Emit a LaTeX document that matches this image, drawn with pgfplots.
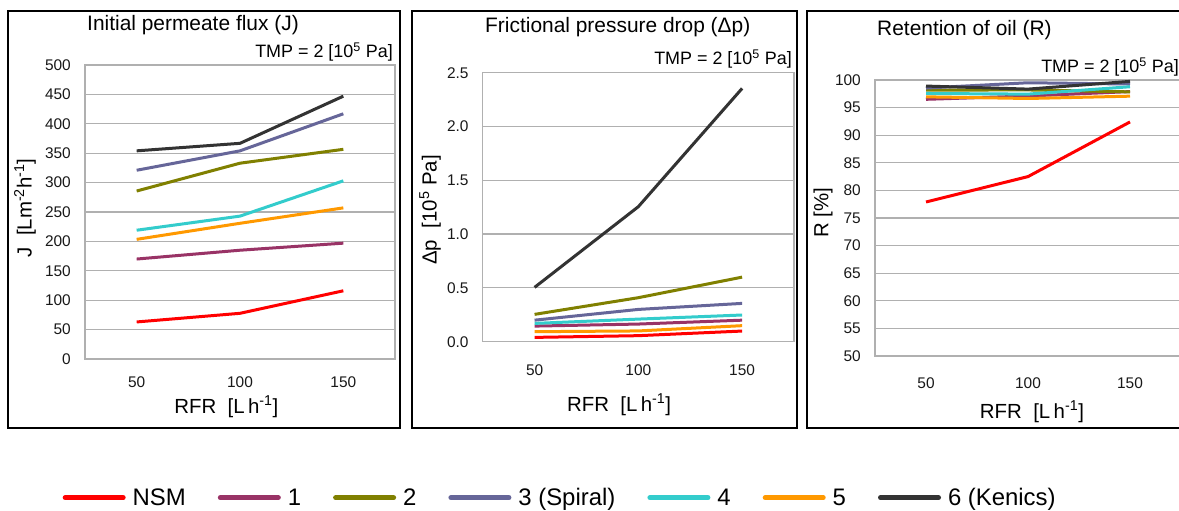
\documentclass[border=0pt]{standalone}
\usepackage{fontspec}
\setmainfont{Liberation Sans}
\usepackage{pgfplots}
\pgfplotsset{compat=1.18}

\definecolor{cNSM}{HTML}{FF0000}
\definecolor{cA}{HTML}{993366}
\definecolor{cB}{HTML}{808000}
\definecolor{cC}{HTML}{666699}
\definecolor{cD}{HTML}{33CCCC}
\definecolor{cE}{HTML}{FF9900}
\definecolor{cF}{HTML}{333333}
\definecolor{gridc}{HTML}{B0B0B0}

\pgfplotsset{
 panel/.style={
   scale only axis,
   anchor=south west,
   xmin=25, xmax=175, xtick={50,100,150},
   axis line style={gridc, line width=1.2bp},
   ymajorgrids, grid style={gridc, line width=1.2bp},
   major tick length=0pt,
   tick label style={font=\fontsize{15.5}{18}\selectfont, text=black!90},
   /pgf/number format/assume math mode=true,
   yticklabel style={anchor=east, inner sep=0pt, xshift=-14bp},
   xticklabel style={anchor=center, inner sep=0pt},
   label style={font=\fontsize{20.5}{24}\selectfont},
   xlabel style={anchor=center},
   ylabel style={anchor=center},
   every axis plot/.append style={line width=3bp, no markers, line join=round},
   clip=false,
 }
}

\begin{document}
\begin{tikzpicture}
\useasboundingbox (0,0) rectangle (1179bp,511bp);
\clip (0,0) rectangle (1179bp,511bp);
\fill[white] (0,0) rectangle (1179bp,511bp);

% panel frames
\draw[line width=2bp] (8.3bp,83.3bp) rectangle (400bp,500bp);
\draw[line width=2bp] (412.3bp,83.3bp) rectangle (797.3bp,500bp);
\draw[line width=2bp] (807.3bp,83.3bp) rectangle (1190bp,500bp);

% Panel 1
\begin{axis}[panel,
  at={(85bp,152bp)}, width=310bp, height=294bp,
  ymin=0, ymax=500, ytick={0,50,...,500},
  xticklabel style={yshift=-22.7bp},
  xlabel={RFR~~[L\,h\textsuperscript{-1}]},
  xlabel style={at={(axis description cs:0.456,-0.163)}},
  ylabel={J~~[Lm\textsuperscript{-2}h\textsuperscript{-1}]},
  ylabel style={at={(axis description cs:-0.1935,0.514)}},
  legend columns=7,
  legend cell align=left,
  legend style={at={(axis description cs:-0.0726,-0.4718)}, anchor=west,
    draw=none, fill=none, inner sep=0pt,
    font=\fontsize{24}{28}\selectfont,
    nodes={inner sep=0pt},
    /tikz/every odd column/.append style={column sep=7bp},
    /tikz/every even column/.append style={column sep=32bp}},
  legend image code/.code={\draw[#1, line width=5bp, line cap=round] (0bp,0bp) -- (58bp,0bp);},
]
\addplot[cNSM] coordinates {(50,63) (100,77.7) (150,116)};
\addplot[cA] coordinates {(50,170) (100,185) (150,197)};
\addplot[cB] coordinates {(50,285.7) (100,333) (150,356.6)};
\addplot[cC] coordinates {(50,321) (100,354) (150,417)};
\addplot[cD] coordinates {(50,219) (100,243) (150,303)};
\addplot[cE] coordinates {(50,203.5) (100,230.8) (150,257)};
\addplot[cF] coordinates {(50,354) (100,366.8) (150,447)};
\legend{NSM,1,2,3 (Spiral),4,5,6 (Kenics)}
\end{axis}

% Panel 2
\begin{axis}[panel,
  at={(482.7bp,169.3bp)}, width=311.3bp, height=269bp,
  ymin=0, ymax=2.5, ytick={0,0.5,...,2.5},
  yticklabel style={/pgf/number format/.cd, fixed, fixed zerofill, precision=1},
  xticklabel style={yshift=-28bp},
  xlabel={RFR~~[L\,h\textsuperscript{-1}]},
  xlabel style={at={(axis description cs:0.438,-0.235)}},
  ylabel={Δp~~[10\textsuperscript{5} Pa]},
  ylabel style={at={(axis description cs:-0.169,0.49)}},
]
\addplot[cNSM] coordinates {(50,0.04) (100,0.056) (150,0.099)};
\addplot[cA] coordinates {(50,0.145) (100,0.164) (150,0.20)};
\addplot[cB] coordinates {(50,0.254) (100,0.409) (150,0.60)};
\addplot[cC] coordinates {(50,0.20) (100,0.30) (150,0.356)};
\addplot[cD] coordinates {(50,0.17) (100,0.21) (150,0.248)};
\addplot[cE] coordinates {(50,0.093) (100,0.10) (150,0.149)};
\addplot[cF] coordinates {(50,0.505) (100,1.255) (150,2.354)};
\end{axis}

% Panel 3
\begin{axis}[panel,
  at={(875bp,155bp)}, width=306bp, height=276bp,
  ymin=50, ymax=100, ytick={50,55,...,100},
  xticklabel style={yshift=-27bp},
  xlabel={RFR~~[L\,h\textsuperscript{-1}]},
  xlabel style={at={(axis description cs:0.513,-0.202)}},
  ylabel={R [\%]},
  ylabel style={at={(axis description cs:-0.170,0.52)}},
]
\addplot[cNSM] coordinates {(50,77.9) (100,82.5) (150,92.4)};
\addplot[cA] coordinates {(50,96.5) (100,97.1) (150,97.9)};
\addplot[cB] coordinates {(50,98.17) (100,98.2) (150,97.85)};
\addplot[cC] coordinates {(50,98.54) (100,99.5) (150,99.27)};
\addplot[cD] coordinates {(50,97.56) (100,97.44) (150,98.78)};
\addplot[cE] coordinates {(50,96.95) (100,96.65) (150,97.07)};
\addplot[cF] coordinates {(50,98.9) (100,98.35) (150,99.75)};
\end{axis}

% titles and notes
\node[anchor=west, inner sep=0pt, font=\fontsize{21}{25}\selectfont] at (87bp,486bp) {Initial permeate flux (J)};
\node[anchor=west, inner sep=0pt, font=\fontsize{21}{25}\selectfont] at (485bp,484bp) {Frictional pressure drop (Δp)};
\node[anchor=west, inner sep=0pt, font=\fontsize{21}{25}\selectfont] at (877bp,481bp) {Retention of oil (R)};
\node[anchor=east, inner sep=0pt, font=\fontsize{18}{22}\selectfont] at (393bp,459.3bp) {TMP = 2 [10\textsuperscript{5} Pa]};
\node[anchor=east, inner sep=0pt, font=\fontsize{18}{22}\selectfont] at (792bp,452bp) {TMP = 2 [10\textsuperscript{5} Pa]};
\node[anchor=east, inner sep=0pt, font=\fontsize{18}{22}\selectfont] at (1179bp,444bp) {TMP = 2 [10\textsuperscript{5} Pa]};
\end{tikzpicture}
\end{document}
